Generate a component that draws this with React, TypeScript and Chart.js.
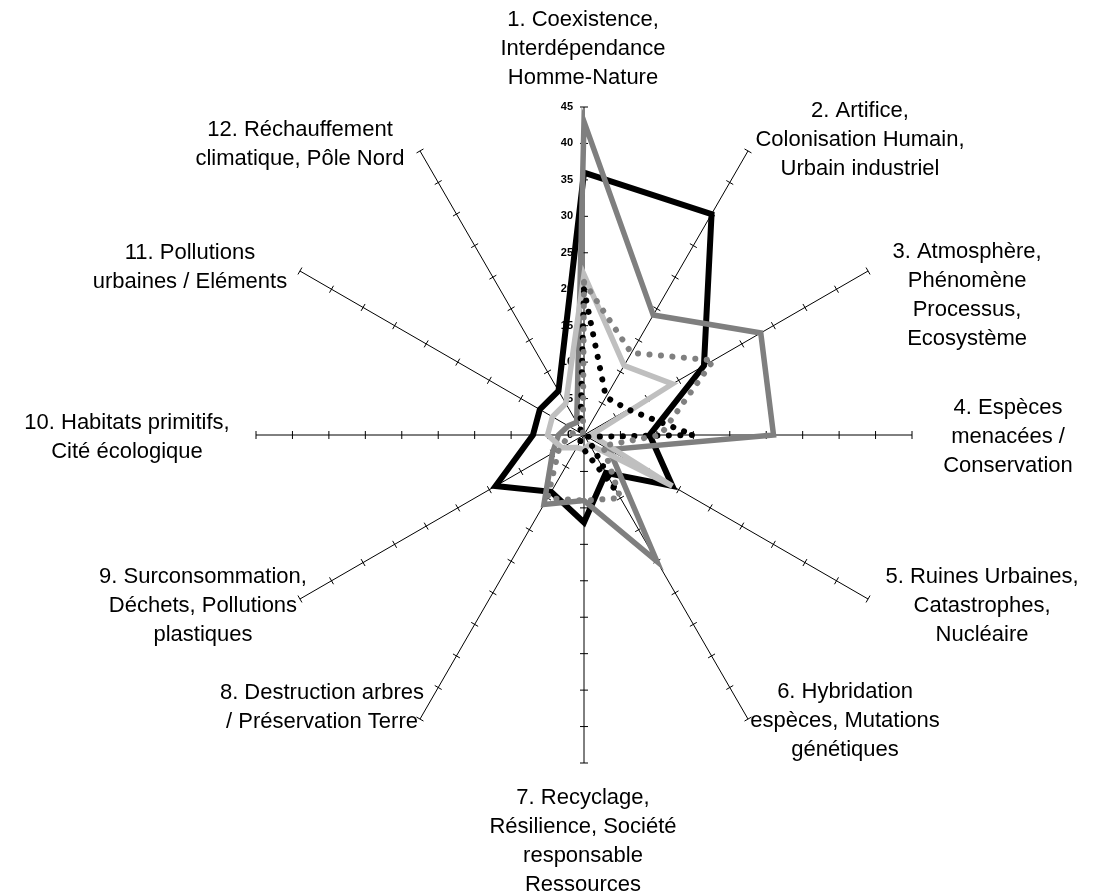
import React, { useEffect, useRef } from 'react';
import { Chart, registerables } from 'chart.js';

Chart.register(...registerables);

const categories: string[][] = [
  ['1. Coexistence,', 'Interdépendance', 'Homme-Nature'],
  ['2. Artifice,', 'Colonisation Humain,', 'Urbain industriel'],
  ['3. Atmosphère,', 'Phénomène', 'Processus,', 'Ecosystème'],
  ['4. Espèces', 'menacées /', 'Conservation'],
  ['5. Ruines Urbaines,', 'Catastrophes,', 'Nucléaire'],
  ['6. Hybridation', 'espèces, Mutations', 'génétiques'],
  ['7. Recyclage,', 'Résilience, Société', 'responsable', 'Ressources'],
  ['8. Destruction arbres', '/ Préservation Terre'],
  ['9. Surconsommation,', 'Déchets, Pollutions', 'plastiques'],
  ['10. Habitats primitifs,', 'Cité écologique'],
  ['11. Pollutions', 'urbaines / Eléments'],
  ['12. Réchauffement', 'climatique, Pôle Nord'],
];

const serie1 = [36, 35, 19, 9, 14, 6, 12, 9, 14, 7, 7, 7];
const serie2 = [43, 19, 28, 26, 4, 20, 9, 11, 5, 3.5, 2.5, 2];
const serie3 = [22, 11, 14, 1, 14, 1.5, 2, 2, 3.5, 5, 5, 5];
const serie4 = [20, 6, 7, 15, 0.5, 9, 2, 1, 0.5, 0.5, 0.5, 1];
const serie5 = [21, 13, 20.5, 10.5, 3, 10, 9, 10, 4, 2, 1, 0.3];

const scaleMin = 0;
const scaleMax = 45;
const scaleStep = 5;

// label block centre offsets from the end of each axis (layout only)
const labelOffsets: [number, number][] = [
  [-1, -58], [112, -11], [99, 24], [96, 2], [114, 7], [97, 2],
  [-1, 78], [-98, -12], [-97, 7], [-129, 2], [-110, -4], [-120, -7],
];

const FONT = '"Liberation Sans", Arial, sans-serif';

const axisDecor = {
  id: 'axisDecor',
  beforeDatasetsDraw(chart: any) {
    const s = chart.scales.r;
    const ctx = chart.ctx as CanvasRenderingContext2D;
    const n = chart.data.labels.length;
    ctx.save();
    ctx.strokeStyle = '#000';
    ctx.lineWidth = 1;
    for (let i = 0; i < n; i++) {
      const a = s.getIndexAngle(i) - Math.PI / 2;
      const px = -Math.sin(a);
      const py = Math.cos(a);
      s.ticks.forEach((t: any) => {
        if (t.value === s.min) return;
        const d = s.getDistanceFromCenterForValue(t.value);
        const p = s.getPointPosition(i, d);
        ctx.beginPath();
        ctx.moveTo(p.x + px * 4, p.y + py * 4);
        ctx.lineTo(p.x - px * 4, p.y - py * 4);
        ctx.stroke();
      });
    }
    ctx.font = 'bold 11px ' + FONT;
    ctx.fillStyle = '#000';
    ctx.textAlign = 'right';
    ctx.textBaseline = 'middle';
    s.ticks.forEach((t: any) => {
      const d = s.getDistanceFromCenterForValue(t.value);
      const p = s.getPointPosition(0, d);
      ctx.fillText(String(t.label), p.x - 11, p.y);
    });
    ctx.restore();
  },
  afterDraw(chart: any) {
    const s = chart.scales.r;
    const ctx = chart.ctx as CanvasRenderingContext2D;
    const labels = chart.data.labels as string[][];
    const lh = 29;
    ctx.save();
    ctx.font = '22px ' + FONT;
    ctx.fillStyle = '#000';
    ctx.textAlign = 'center';
    ctx.textBaseline = 'middle';
    labels.forEach((lines, i) => {
      const end = s.getPointPosition(i, s.getDistanceFromCenterForValue(s.max));
      const [dx, dy] = labelOffsets[i];
      const cx = end.x + dx;
      const cy = end.y + dy;
      const top = cy - ((lines.length - 1) * lh) / 2;
      lines.forEach((line, k) => ctx.fillText(line, cx, top + k * lh));
    });
    ctx.restore();
  },
};

const dotted = (color: string) => ({
  borderColor: color,
  borderWidth: 6,
  borderDash: [0.1, 11.4],
  borderCapStyle: 'round' as const,
});

export default function App() {
  const ref = useRef<HTMLCanvasElement>(null);
  useEffect(() => {
    if (!ref.current) return;
    const chart = new Chart(ref.current, {
      type: 'radar',
      data: {
        labels: categories,
        datasets: [
          { label: 'Série 1', data: serie1, borderColor: '#000000', borderWidth: 6, order: 5 },
          { label: 'Série 2', data: serie2, borderColor: '#7f7f7f', borderWidth: 5.5, order: 4 },
          { label: 'Série 3', data: serie3, borderColor: '#bfbfbf', borderWidth: 5.5, order: 3 },
          { label: 'Série 4', data: serie4, ...dotted('#000000'), order: 2 },
          { label: 'Série 5', data: serie5, ...dotted('#808080'), order: 1 },
        ].map((d) => ({
          fill: false,
          pointRadius: 0,
          pointHoverRadius: 0,
          tension: 0,
          borderJoinStyle: 'miter' as const,
          ...d,
        })),
      },
      options: {
        responsive: false,
        animation: false,
        layout: { padding: { left: 184, top: 107, right: 123, bottom: 128 } },
        plugins: { legend: { display: false }, tooltip: { enabled: false } },
        scales: {
          r: {
            min: scaleMin,
            max: scaleMax,
            ticks: { stepSize: scaleStep, display: false },
            grid: { display: false },
            angleLines: { display: true, color: '#000', lineWidth: 1 },
            pointLabels: { display: false },
          },
        },
      },
      plugins: [axisDecor],
    });
    return () => chart.destroy();
  }, []);
  return (
    <div style={{ position: 'absolute', left: 0, top: 0, width: 1107, height: 892, background: '#fff' }}>
      <canvas ref={ref} width={1107} height={892} style={{ display: 'block' }} />
    </div>
  );
}
